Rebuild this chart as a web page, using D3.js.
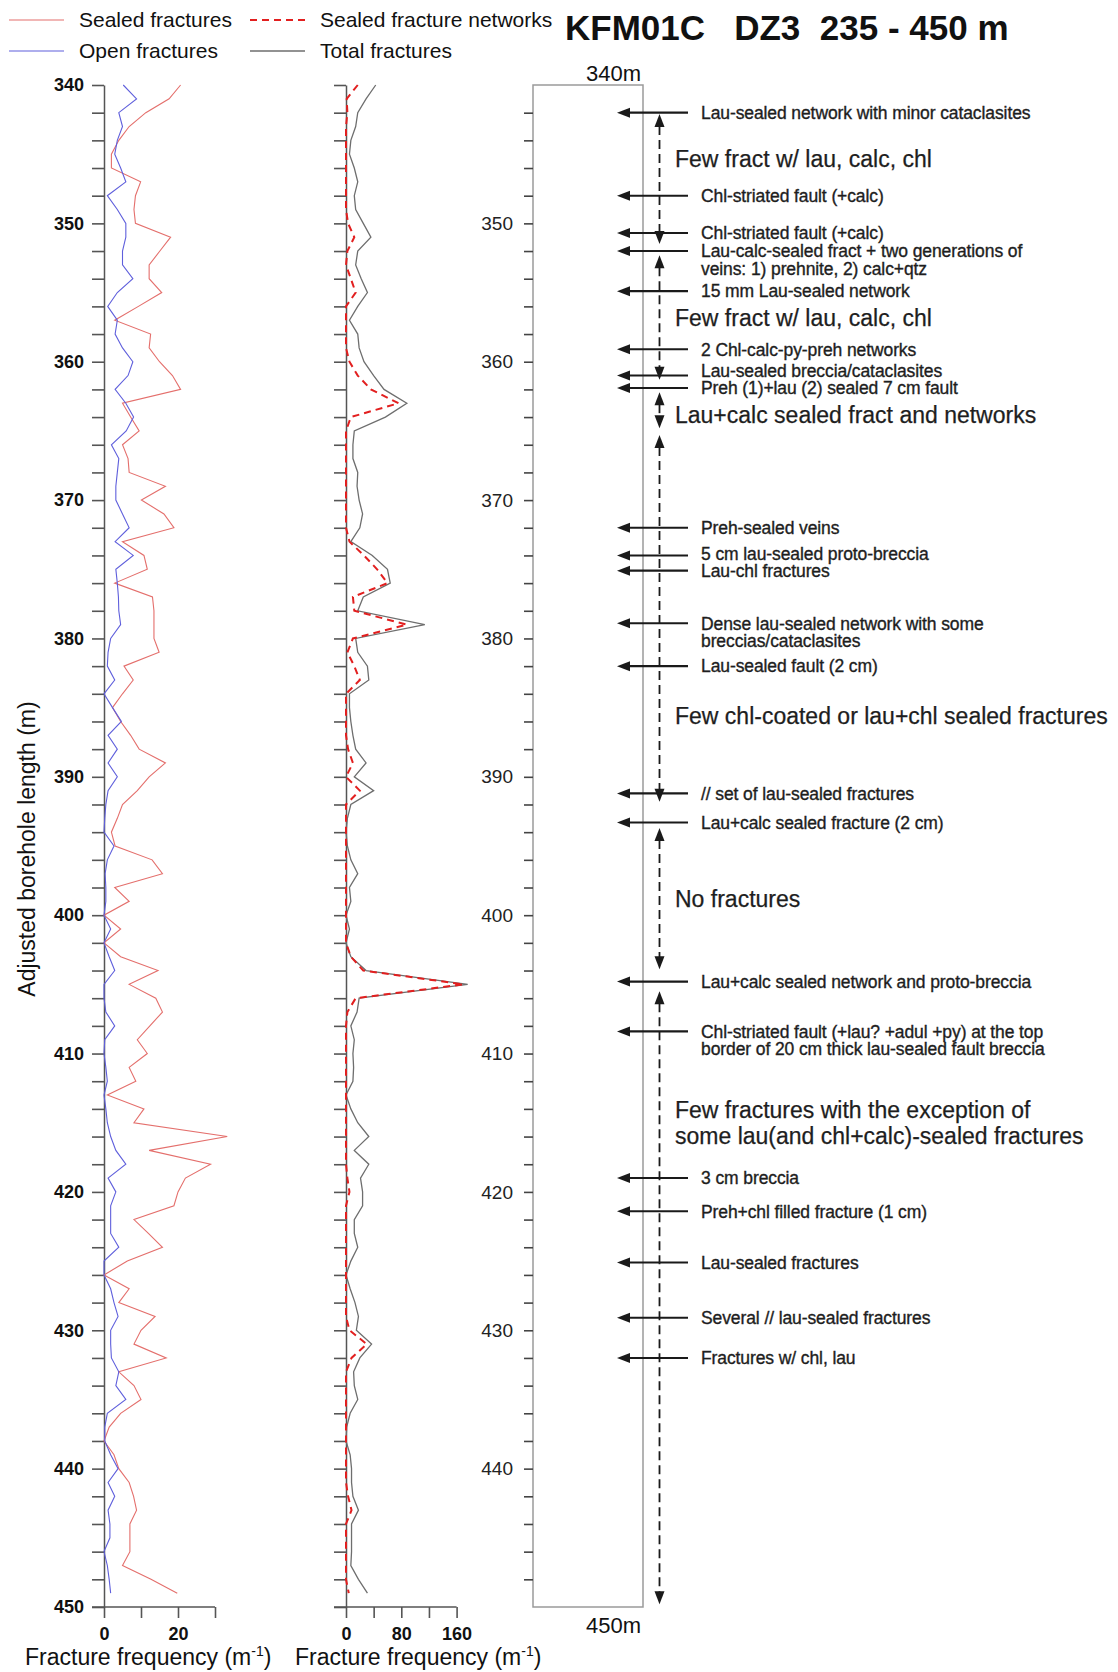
<!DOCTYPE html>
<html lang="en">
<head>
<meta charset="UTF-8">
<script src="https://d3js.org/d3.v7.min.js"></script>
<title>KFM01C DZ3</title>
<style>
  body { margin: 0; background: #fff; }
  text { font-family: "Liberation Sans", Arial, sans-serif; }
</style>
</head>
<body>
<svg id="chart"></svg>
<script>
// depth of each 1 m section (m)
const depth = [
  340,341,342,343,344,345,346,347,348,349,
  350,351,352,353,354,355,356,357,358,359,
  360,361,362,363,364,365,366,367,368,369,
  370,371,372,373,374,375,376,377,378,379,
  380,381,382,383,384,385,386,387,388,389,
  390,391,392,393,394,395,396,397,398,399,
  400,401,402,403,404,405,406,407,408,409,
  410,411,412,413,414,415,416,417,418,419,
  420,421,422,423,424,425,426,427,428,429,
  430,431,432,433,434,435,436,437,438,439,
  440,441,442,443,444,445,446,447,448,449];

// fracture frequencies (m-1)
const sealed = [
  20.7,17.6,11.3,6.8,4.0,2.0,2.0,9.9,8.5,8.1,
  8.5,18.0,15.1,12.2,12.2,15.6,9.3,2.9,12.6,12.2,
  15.0,18.5,20.7,5.0,7.2,9.5,5.0,6.5,6.8,16.6,
  10.1,16.2,18.9,5.0,10.8,11.7,2.9,13.1,13.5,13.5,
  13.5,14.9,5.4,7.9,5.0,2.3,4.5,7.2,9.5,16.6,
  12.2,9.0,5.0,3.6,2.0,3.0,13.0,15.8,2.9,6.8,
  0,4.5,0,4.5,14.6,6.8,14.0,15.8,12.4,9.0,
  11.7,6.8,8.6,0.9,10.8,8.1,33.3,12.2,28.8,22.0,
  20.0,18.9,8.1,12.0,15.8,6.3,0,6.8,4.0,13.8,
  10.0,8.1,16.8,4.0,8.1,10.0,4.5,1.4,0,2.7,
  4.0,6.8,8.0,8.8,7.0,7.0,7.0,5.0,12.7,19.8];

const open = [
  5.2,8.8,4.0,5.0,3.6,2.9,4.5,5.9,0.9,3.6,
  5.9,5.9,5.0,5.0,7.8,3.6,1.0,3.6,3.0,5.0,
  7.8,6.5,3.0,5.9,8.0,6.0,2.0,4.0,3.6,3.2,
  3.2,5.0,6.8,3.0,7.9,3.2,3.6,3.9,4.0,4.5,
  1.8,1.1,0.9,2.9,0,2.3,4.7,1.1,3.6,1.1,
  3.6,1.1,0.5,0.2,0,2.7,0.9,0.3,0.5,0.5,
  0,1.8,0,1.4,2.9,0,0,0.5,2.9,0.2,
  0,0.5,0.9,0,0.5,0.9,1.8,3.2,5.9,1.1,
  3.2,1.8,1.8,1.8,4.0,0,0,1.8,2.7,3.8,
  1.8,1.8,2.0,4.0,3.2,5.9,0.9,0.2,0.2,1.8,
  3.8,1.1,2.9,1.1,1.6,1.6,0,0.9,1.4,1.8];

const networks = [
  17,1,2,0,0,0,0,0,0,0,
  3,12,2,0,7,14,0,0,0,0,
  5,17,36,76,7,0,0,0,0,0,
  0,0,0,5,26,45,60,10,12,88,
  10,2,12,20,0,0,0,0,3,10,
  0,20,0,0,0,0,0,0,0,0,
  0,0,0,7,25,170,14,2,0,0,
  0,0,0,0,0,0,0,0,0,2,
  5,0,0,0,0,0,0,0,0,0,
  5,30,8,0,0,0,0,0,0,0,
  0,0,3,8,0,0,0,0,0,4];

const total = [
  43,29,17,14,7,5,12,17,12,14,
  25,36,17,14,22,31,17,5,17,19,
  26,40,55,88,57,12,10,10,17,16,
  19,24,20,7,38,60,64,25,17,114,
  14,17,31,33,5,5,7,10,14,29,
  12,40,7,2,0,2,7,17,5,7,
  0,5,0,7,29,176,19,16,7,12,
  10,11,10,0,7,17,33,12,33,21,
  24,24,12,12,17,7,0,6,13,18,
  15,37,20,11,12,17,6,1,0,6,
  8,8,10,18,8,8,8,7,18,31];

// axis ticks
const depthTicks = [340,342,344,346,348,350,352,354,356,358,360,362,364,366,368,370,372,374,376,378,
  380,382,384,386,388,390,392,394,396,398,400,402,404,406,408,410,412,414,416,418,
  420,422,424,426,428,430,432,434,436,438,440,442,444,446,448,450];
const leftTicks = [0, 10, 20, 30];
const leftLabels = [0, 20];
const midTicks = [0, 40, 80, 120, 160];
const midLabels = [0, 80, 160];

// core log annotations: depth (m) and text lines
const notes = [
  [342.0, ["Lau-sealed network with minor cataclasites"]],
  [348.0, ["Chl-striated fault (+calc)"]],
  [350.7, ["Chl-striated fault (+calc)"]],
  [352.0, ["Lau-calc-sealed fract + two generations of", "veins: 1) prehnite, 2) calc+qtz"]],
  [354.9, ["15 mm Lau-sealed network"]],
  [359.1, ["2 Chl-calc-py-preh networks"]],
  [361.0, ["Lau-sealed breccia/cataclasites"]],
  [361.9, ["Preh (1)+lau (2) sealed 7 cm fault"]],
  [372.0, ["Preh-sealed veins"]],
  [374.0, ["5 cm lau-sealed proto-breccia"]],
  [375.1, ["Lau-chl fractures"]],
  [378.9, ["Dense lau-sealed network with some", "breccias/cataclasites"]],
  [382.0, ["Lau-sealed fault (2 cm)"]],
  [391.2, ["// set of lau-sealed fractures"]],
  [393.3, ["Lau+calc sealed fracture (2 cm)"]],
  [404.8, ["Lau+calc sealed network and proto-breccia"]],
  [408.4, ["Chl-striated fault (+lau? +adul +py) at the top", "border of 20 cm thick lau-sealed fault breccia"]],
  [419.0, ["3 cm breccia"]],
  [421.4, ["Preh+chl filled fracture (1 cm)"]],
  [425.1, ["Lau-sealed fractures"]],
  [429.1, ["Several // lau-sealed fractures"]],
  [432.0, ["Fractures w/ chl, lau"]]
];

// intervals: dashed double arrows (top, bottom)
const intervals = [
  [342.1, 351.5], [352.3, 361.3], [362.2, 364.8],
  [365.3, 391.8], [393.7, 403.9], [405.5, 449.8]
];
const zoneLabels = [
  [345.3, ["Few fract w/ lau, calc, chl"]],
  [356.8, ["Few fract w/ lau, calc, chl"]],
  [363.8, ["Lau+calc sealed fract and networks"]],
  [385.6, ["Few chl-coated or lau+chl sealed fractures"]],
  [398.8, ["No fractures"]],
  [415.0, ["Few fractures with the exception of", "some lau(and chl+calc)-sealed fractures"]]
];

const width = 1118, height = 1672;
const svg = d3.select("#chart").attr("width", width).attr("height", height);
svg.append("rect").attr("width", width).attr("height", height).attr("fill", "#fff");

const y = d3.scaleLinear().domain([340, 450]).range([85, 1607]);
const xL = d3.scaleLinear().domain([0, 30]).range([104, 215]);
const xM = d3.scaleLinear().domain([0, 160]).range([346, 456.6]);

const rows = depth.map((d, i) => ({d, sealed: sealed[i], open: open[i], networks: networks[i], total: total[i]}));

function depthAxis(x0, labels) {
  const g = svg.append("g").attr("transform", `translate(${x0},0)`)
    .call(d3.axisLeft(y).tickValues(depthTicks).tickSize(12).tickSizeOuter(0).tickPadding(8)
      .tickFormat(d => labels && d % 10 === 0 ? d : ""));
  g.select(".domain").attr("stroke", "#555").attr("stroke-width", 1.5);
  g.selectAll(".tick line").attr("stroke", "#555").attr("stroke-width", 1.6);
  g.selectAll(".tick text").attr("font-size", 18).attr("font-weight", "bold").attr("fill", "#111")
    .attr("font-family", "Liberation Sans, Arial, sans-serif");
}

function freqAxis(x, ticks, labels) {
  const g = svg.append("g").attr("transform", `translate(0,${y(450)})`)
    .call(d3.axisBottom(x).tickValues(ticks).tickSize(11).tickPadding(9)
      .tickFormat(d => labels.includes(d) ? d : ""));
  g.select(".domain").remove();
  g.append("line").attr("x1", x.range()[0] - 12).attr("x2", x.range()[1])
    .attr("stroke", "#555").attr("stroke-width", 1.5);
  g.selectAll(".tick line").attr("stroke", "#555").attr("stroke-width", 1.6);
  g.selectAll(".tick text").attr("font-size", 18).attr("font-weight", "bold").attr("fill", "#111")
    .attr("font-family", "Liberation Sans, Arial, sans-serif");
}

depthAxis(xL(0), true);
freqAxis(xL, leftTicks, leftLabels);
depthAxis(xM(0), false);
freqAxis(xM, midTicks, midLabels);

const line = (x, key) => d3.line().x(r => x(r[key])).y(r => y(r.d));

svg.append("path").attr("d", line(xL, "sealed")(rows)).attr("fill", "none")
  .attr("stroke", "#e46f6c").attr("stroke-width", 1.1);
svg.append("path").attr("d", line(xL, "open")(rows)).attr("fill", "none")
  .attr("stroke", "#5f5fdc").attr("stroke-width", 1.1);
svg.append("path").attr("d", line(xM, "total")(rows)).attr("fill", "none")
  .attr("stroke", "#6e6e6e").attr("stroke-width", 1.3);
svg.append("path").attr("d", line(xM, "networks")(rows)).attr("fill", "none")
  .attr("stroke", "#e21f1f").attr("stroke-width", 2).attr("stroke-dasharray", "7,5");

// axis titles
svg.append("text").attr("transform", `translate(35,${(y(340) + y(450)) / 2 + 3}) rotate(-90)`)
  .attr("text-anchor", "middle").attr("font-size", 23).attr("fill", "#111")
  .text("Adjusted borehole length (m)");

[25, 295].forEach(x0 => {
  const t = svg.append("text").attr("x", x0).attr("y", 1665).attr("font-size", 23).attr("fill", "#111");
  t.append("tspan").text("Fracture frequency (m");
  t.append("tspan").attr("font-size", 14).attr("dy", -9).text("-1");
  t.append("tspan").attr("dy", 9).text(")");
});

// legend
const legend = [
  {label: "Sealed fractures", color: "#e46f6c", dash: null, w: 1.1, x: 9, y: 20},
  {label: "Sealed fracture networks", color: "#e21f1f", dash: "7,5", w: 2, x: 250, y: 20},
  {label: "Open fractures", color: "#5f5fdc", dash: null, w: 1.1, x: 9, y: 51},
  {label: "Total fractures", color: "#6e6e6e", dash: null, w: 1.3, x: 250, y: 51}
];
legend.forEach(l => {
  svg.append("line").attr("x1", l.x).attr("x2", l.x + 55).attr("y1", l.y).attr("y2", l.y)
    .attr("stroke", l.color).attr("stroke-width", l.w).attr("stroke-dasharray", l.dash);
  svg.append("text").attr("x", l.x + 70).attr("y", l.y + 7).attr("font-size", 21).attr("fill", "#111")
    .text(l.label);
});

// title
svg.append("text").attr("x", 565).attr("y", 40).attr("font-size", 35).attr("font-weight", "bold")
  .attr("fill", "#111").style("white-space", "pre").text("KFM01C   DZ3  235 - 450 m");

// core log panel
const coreL = 533, coreR = 643;
svg.append("rect").attr("x", coreL).attr("y", y(340)).attr("width", coreR - coreL)
  .attr("height", y(450) - y(340)).attr("fill", "none").attr("stroke", "#9a9a9a").attr("stroke-width", 1.5);

const cg = svg.append("g").attr("transform", `translate(${coreL},0)`)
  .call(d3.axisLeft(y).tickValues(depthTicks.slice(1, -1)).tickSize(9).tickPadding(11)
    .tickFormat(d => d % 10 === 0 ? d : ""));
cg.select(".domain").remove();
cg.selectAll(".tick line").attr("stroke", "#444").attr("stroke-width", 1.6);
cg.selectAll(".tick text").attr("font-size", 19).attr("fill", "#222")
  .attr("font-family", "Liberation Sans, Arial, sans-serif");

svg.append("text").attr("x", coreR - 2).attr("y", y(340) - 4).attr("text-anchor", "end")
  .attr("font-size", 22).attr("fill", "#111").text(`${y.domain()[0]}m`);
svg.append("text").attr("x", coreR - 2).attr("y", y(450) + 26).attr("text-anchor", "end")
  .attr("font-size", 22).attr("fill", "#111").text(`${y.domain()[1]}m`);

// horizontal annotation arrows
const arrowTip = 617, arrowEnd = 688, noteX = 701, lineGap = 17.3;
notes.forEach(([d]) => {
  const yy = y(d);
  svg.append("line").attr("x1", arrowTip + 10).attr("x2", arrowEnd).attr("y1", yy).attr("y2", yy)
    .attr("stroke", "#1a1a1a").attr("stroke-width", 2.1);
  svg.append("path").attr("d", `M${arrowTip},${yy}L${arrowTip + 13},${yy - 5}L${arrowTip + 13},${yy + 5}Z`)
    .attr("fill", "#1a1a1a");
});

// place note text, pushing upward where notes would overlap
const noteY = new Array(notes.length);
let nextTop = Infinity;
for (let i = notes.length - 1; i >= 0; i--) {
  const [d, lines] = notes[i];
  const ty = Math.min(y(d), nextTop - 17 - (lines.length - 1) * lineGap);
  noteY[i] = ty;
  nextTop = ty;
}
notes.forEach(([d, lines], i) => {
  const t = svg.append("text").attr("x", noteX).attr("y", noteY[i])
    .attr("font-size", 17.5).attr("fill", "#1e1e1e").attr("stroke", "#1e1e1e").attr("stroke-width", 0.35)
    .attr("letter-spacing", -0.1);
  lines.forEach((s, k) => t.append("tspan").attr("x", noteX).attr("dy", k === 0 ? "0.36em" : lineGap).text(s));
});

// dashed interval arrows
const dashX = 659.5;
intervals.forEach(([a, b]) => {
  const ya = y(a), yb = y(b);
  svg.append("line").attr("x1", dashX).attr("x2", dashX).attr("y1", ya + 12).attr("y2", yb - 12)
    .attr("stroke", "#1a1a1a").attr("stroke-width", 1.8).attr("stroke-dasharray", "9,5");
  svg.append("path").attr("d", `M${dashX},${ya}L${dashX - 5},${ya + 13}L${dashX + 5},${ya + 13}Z`).attr("fill", "#1a1a1a");
  svg.append("path").attr("d", `M${dashX},${yb}L${dashX - 5},${yb - 13}L${dashX + 5},${yb - 13}Z`).attr("fill", "#1a1a1a");
});

// interval descriptions
const zoneX = 675, zoneGap = 26;
zoneLabels.forEach(([d, lines]) => {
  const y0 = y(d) - (lines.length - 1) * zoneGap / 2;
  const t = svg.append("text").attr("font-size", 23).attr("fill", "#1e1e1e")
    .attr("stroke", "#1e1e1e").attr("stroke-width", 0.25);
  lines.forEach((s, k) => t.append("tspan").attr("x", zoneX).attr("y", y0 + k * zoneGap).attr("dy", "0.36em").text(s));
});
</script>
</body>
</html>
